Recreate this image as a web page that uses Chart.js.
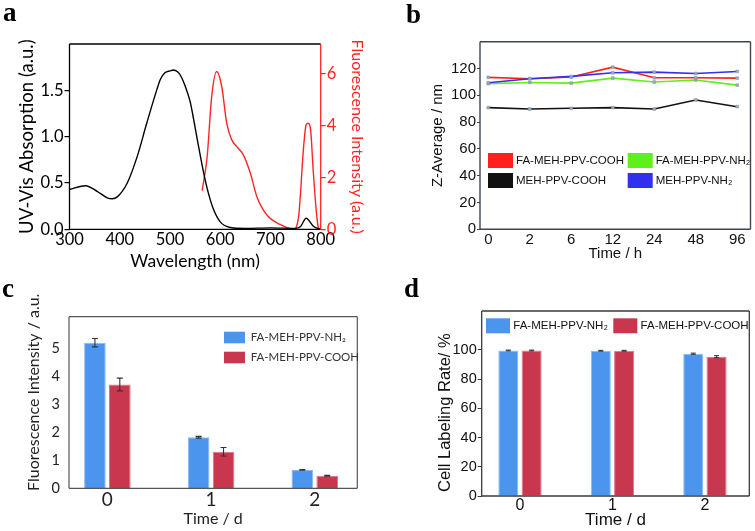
<!DOCTYPE html>
<html><head><meta charset="utf-8">
<script src="https://cdn.jsdelivr.net/npm/chart.js@4.4.1/dist/chart.umd.min.js"></script>
<style>
html,body{margin:0;padding:0;background:#fff;}
#wrap{position:relative;width:755px;height:531px;overflow:hidden;background:#fff;}
.layer{position:absolute;left:0;top:0;width:755px;height:531px;}
.lbl{position:absolute;font-family:"Liberation Serif","Times New Roman",serif;font-weight:bold;font-size:27px;line-height:1;color:#000;}
</style></head><body>
<div id="wrap">
  <div class="layer"><canvas id="ca"></canvas></div>
  <div class="layer"><canvas id="cb"></canvas></div>
  <div class="layer"><canvas id="cc"></canvas></div>
  <div class="layer"><canvas id="cd"></canvas></div>
  <div class="lbl" style="left:3px;top:-1px">a</div>
  <div class="lbl" style="left:406px;top:1px">b</div>
  <div class="lbl" style="left:2px;top:275px">c</div>
  <div class="lbl" style="left:404px;top:275px">d</div>
</div>
<script>
// ---------- Panel a data ----------
const uvWavelength = [300, 332, 355, 375, 385, 395, 415, 435, 454, 474, 481, 490, 500, 507, 515, 521, 530, 540, 547, 555, 567, 577, 587, 600, 620, 650, 700, 750, 760, 771, 786, 800];
const uvAbsorbance = [0.43, 0.47, 0.41, 0.34, 0.33, 0.35, 0.50, 0.79, 1.15, 1.51, 1.62, 1.69, 1.71, 1.72, 1.70, 1.66, 1.55, 1.38, 1.19, 0.95, 0.61, 0.38, 0.21, 0.08, 0.02, 0.01, 0.015, 0.01, 0.03, 0.12, 0.03, 0.0];
const flWavelength = [564, 574, 583, 593, 603, 613, 623, 633, 646, 660, 673, 693, 719, 746, 756, 766, 771, 775, 780, 785, 791, 795, 799];
const flIntensity = [1.49, 2.80, 5.12, 6.09, 5.51, 4.09, 3.45, 3.19, 2.87, 2.16, 1.26, 0.55, 0.19, 0.01, 0.49, 3.19, 4.03, 4.09, 3.83, 2.29, 0.75, 0.10, 0.0];

// ---------- Panel b data ----------
const timeLabels = ['0', '2', '6', '12', '24', '48', '96'];
const faMehPpvCooh = [113.4, 112.4, 113.6, 121.0, 113.1, 113.1, 112.8];
const faMehPpvNh2 = [108.7, 109.6, 109.1, 112.8, 109.9, 111.4, 107.6];
const mehPpvCooh = [90.8, 89.8, 90.3, 90.8, 89.8, 96.5, 91.5];
const mehPpvNh2 = [109.4, 112.4, 114.1, 116.8, 117.3, 116.3, 117.8];

// ---------- Panel c data ----------
const dayLabels = ['0', '1', '2'];
const flNh2 = [5.22, 1.83, 0.66];
const flNh2Err = [0.15, 0.03, 0.015];
const flCooh = [3.72, 1.31, 0.45];
const flCoohErr = [0.23, 0.15, 0.02];

// ---------- Panel d data ----------
const rateNh2 = [99.5, 99.3, 97.3];
const rateNh2Err = [0.3, 0.3, 0.4];
const rateCooh = [99.5, 99.3, 95.3];
const rateCoohErr = [0.3, 0.3, 0.7];

// ---------- plugins ----------
const framePlugin = {
  id: 'frame',
  afterDraw(chart, args, o) {
    const {ctx, chartArea: {left, top, right, bottom}} = chart;
    const c = o.colors || {};
    ctx.save();
    ctx.lineWidth = o.width || 1;
    const seg = (x1, y1, x2, y2, col) => { ctx.strokeStyle = col; ctx.beginPath(); ctx.moveTo(x1, y1); ctx.lineTo(x2, y2); ctx.stroke(); };
    const col = o.color || '#000';
    seg(left, top, right, top, c.top || col);
    seg(left, bottom, right, bottom, c.bottom || col);
    seg(left, top, left, bottom, c.left || col);
    seg(right, top, right, bottom, c.right || col);
    ctx.restore();
  }
};
const boxLegend = {
  id: 'boxLegend',
  afterDraw(chart, args, o) {
    if (!o || !o.items) return;
    const ctx = chart.ctx, ca = chart.chartArea;
    ctx.save();
    ctx.font = o.font;
    ctx.textBaseline = 'middle';
    ctx.textAlign = 'left';
    chart.data.datasets.forEach((ds, i) => {
      const p = o.items[i];
      if (!p) return;
      const x = ca.left + p[0], y = ca.top + p[1];
      ctx.fillStyle = o.useBorder ? ds.borderColor : ds.backgroundColor;
      ctx.fillRect(x, y, o.w, o.h);
      if (o.stroke) {
        ctx.lineWidth = 1;
        ctx.strokeStyle = o.useBorder ? o.stroke : ds.borderColor;
        ctx.strokeRect(x + 0.5, y + 0.5, o.w - 1, o.h - 1);
      }
      ctx.fillStyle = o.color;
      ctx.fillText(ds.label, x + o.w + o.gap, y + o.h / 2 + (o.dy || 0));
    });
    ctx.restore();
  }
};
const errorBars = {
  id: 'errorBars',
  afterDatasetsDraw(chart, args, o) {
    const ctx = chart.ctx, ys = chart.scales.y;
    ctx.save();
    ctx.strokeStyle = o.color || '#333';
    ctx.lineWidth = o.width || 1;
    chart.data.datasets.forEach((ds, i) => {
      if (!ds.errors) return;
      const meta = chart.getDatasetMeta(i);
      meta.data.forEach((bar, j) => {
        const v = ds.data[j].y, e = ds.errors[j];
        const yt = ys.getPixelForValue(v + e), yb = ys.getPixelForValue(v - e);
        const x = bar.x, cw = o.cap || 3;
        ctx.beginPath();
        ctx.moveTo(x, yt); ctx.lineTo(x, yb);
        ctx.moveTo(x - cw, yt); ctx.lineTo(x + cw, yt);
        ctx.moveTo(x - cw, yb); ctx.lineTo(x + cw, yb);
        ctx.stroke();
      });
    });
    ctx.restore();
  }
};

const base = {responsive: true, maintainAspectRatio: false, animation: false, events: []};
const onlyInts = (lo, hi) => (axis) => { axis.ticks = axis.ticks.filter(t => Math.abs(t.value - Math.round(t.value)) < 1e-6 && t.value >= lo && t.value <= hi); };
const keep = (vals) => (axis) => { axis.ticks = axis.ticks.filter(t => vals.some(v => Math.abs(v - t.value) < 1e-6)); };
const noGrid = {display: false, drawTicks: false, tickLength: 0};

// ---------- Panel a ----------
const LATO = 'Lato, "Open Sans", sans-serif';
const ARIAL = '"Liberation Sans", Arial, sans-serif';
const RED = '#ff2424';
new Chart(document.getElementById('ca'), {
  type: 'line',
  data: {
    datasets: [
      {label: 'UV-Vis Absorption', data: uvWavelength.map((x, i) => ({x, y: uvAbsorbance[i]})), borderColor: '#000', borderWidth: 1.4, pointRadius: 0, cubicInterpolationMode: 'monotone', yAxisID: 'y'},
      {label: 'Fluorescence Intensity', data: flWavelength.map((x, i) => ({x, y: flIntensity[i]})), borderColor: RED, borderWidth: 1.4, pointRadius: 0, cubicInterpolationMode: 'monotone', yAxisID: 'y1'}
    ]
  },
  options: Object.assign({}, base, {
    layout: {padding: {left: 15.5, top: 44, right: 755 - 320.7 - 46.2, bottom: 531 - 229.3 - 43}},
    plugins: {legend: {display: false}, tooltip: {enabled: false}, frame: {width: 1.3, color: '#000', colors: {right: RED}}},
    scales: {
      x: {type: 'linear', min: 300, max: 800,
        ticks: {stepSize: 100, includeBounds: false, font: {family: LATO, size: 16.5}, color: '#000', padding: 0, maxRotation: 0},
        grid: noGrid, border: {display: false},
        title: {display: true, text: 'Wavelength (nm)', font: {family: LATO, size: 17.5}, color: '#000', padding: 0},
        afterBuildTicks: keep([300, 400, 500, 600, 700, 800]),
        afterFit: s => { s.height = 43; }},
      y: {position: 'left', min: 0, max: 2,
        ticks: {stepSize: 0.5, includeBounds: false, font: {family: LATO, size: 16.5}, color: '#000', padding: 1, callback: v => v.toFixed(1)},
        grid: {display: true, drawOnChartArea: false, tickLength: 5, color: '#000', lineWidth: 1.2}, border: {display: false},
        title: {display: true, text: 'UV-Vis Absorption (a.u.)', font: {family: LATO, size: 18.5}, color: '#000', padding: 0},
        afterBuildTicks: keep([0, 0.5, 1, 1.5]),
        afterFit: s => { s.width = 54; }},
      y1: {position: 'right', min: 0, max: 7.15,
        ticks: {stepSize: 2, includeBounds: false, font: {family: LATO, size: 16.5}, color: RED, padding: 1},
        grid: {display: true, drawOnChartArea: false, tickLength: 5, color: RED, lineWidth: 1.2}, border: {display: false},
        title: {display: true, text: 'Fluorescence Intensity (a.u.)', font: {family: LATO, size: 16}, color: RED, padding: 0},
        afterBuildTicks: keep([0, 2, 4, 6]),
        afterFit: s => { s.width = 46.2; }}
    }
  }),
  plugins: [framePlugin]
});

// ---------- Panel b ----------
const mk = (label, arr, color, order) => ({label, data: arr.map((y, i) => ({x: i, y})), borderColor: color, backgroundColor: color, borderWidth: 1.6, pointStyle: 'rect', pointRadius: 2, pointBackgroundColor: '#9eabbd', pointBorderColor: '#8190a6', pointBorderWidth: 0.5, tension: 0, order});
new Chart(document.getElementById('cb'), {
  type: 'line',
  data: {
    datasets: [
      mk('FA-MEH-PPV-COOH', faMehPpvCooh, '#ff1f1f', 1),
      mk('FA-MEH-PPV-NH\u2082', faMehPpvNh2, '#5ef01a', 2),
      mk('MEH-PPV-COOH', mehPpvCooh, '#111111', 3),
      mk('MEH-PPV-NH\u2082', mehPpvNh2, '#3030ee', 0)
    ]
  },
  options: Object.assign({}, base, {
    layout: {padding: {left: 480 - 51, top: 41.7, right: 755 - 751.7, bottom: 531 - 229.3 - 33.7}},
    plugins: {legend: {display: false}, tooltip: {enabled: false}, frame: {width: 1.4, color: '#3d4650'},
      boxLegend: {items: [[8, 111.3], [147.7, 111.3], [8, 131.3], [147.7, 131.3]], w: 25, h: 15, gap: 3, font: '11.5px ' + ARIAL, color: '#111', useBorder: true}},
    scales: {
      x: {type: 'linear', min: -0.2, max: 6.32,
        ticks: {stepSize: 1, includeBounds: false, font: {family: ARIAL, size: 15}, color: '#111', padding: 1.5, maxRotation: 0, callback: v => timeLabels[v]},
        grid: noGrid, border: {display: false},
        title: {display: true, text: 'Time / h', font: {family: ARIAL, size: 15}, color: '#111', padding: 0},
        afterBuildTicks: onlyInts(0, 6),
        afterFit: s => { s.height = 33.7; }},
      y: {min: 0, max: 140,
        ticks: {stepSize: 20, includeBounds: false, font: {family: ARIAL, size: 15}, color: '#111', padding: 1},
        grid: {display: true, drawOnChartArea: false, tickLength: 3, color: '#3d4650'}, border: {display: false},
        title: {display: true, text: 'Z-Average / nm', font: {family: ARIAL, size: 15}, color: '#111', padding: 0},
        afterBuildTicks: keep([0, 20, 40, 60, 80, 100, 120]),
        afterFit: s => { s.width = 51; }}
    }
  }),
  plugins: [framePlugin, boxLegend]
});

// ---------- Panel c ----------
const BLUE = '#4b95ee', BLUE_E = '#86bbf6', CRIM = '#c9374f', CRIM_E = '#e27487';
new Chart(document.getElementById('cc'), {
  type: 'bar',
  data: {
    datasets: [
      {label: 'FA-MEH-PPV-NH\u2082', data: flNh2.map((y, i) => ({x: i, y})), errors: flNh2Err, backgroundColor: BLUE, borderColor: BLUE_E, borderWidth: 1, categoryPercentage: 0.48, barPercentage: 0.87},
      {label: 'FA-MEH-PPV-COOH', data: flCooh.map((y, i) => ({x: i, y})), errors: flCoohErr, backgroundColor: CRIM, borderColor: CRIM_E, borderWidth: 1, categoryPercentage: 0.48, barPercentage: 0.87}
    ]
  },
  options: Object.assign({}, base, {
    layout: {padding: {left: 69 - 45.1, top: 316.7, right: 755 - 357.3, bottom: 531 - 488.3 - 39.8}},
    plugins: {legend: {display: false}, tooltip: {enabled: false}, frame: {width: 1.2, color: '#555'},
      errorBars: {color: '#333', width: 1.1, cap: 3},
      boxLegend: {items: [[155, 15], [155, 35]], w: 21, h: 11.6, gap: 5.7, font: '11.5px ' + LATO, color: '#333'}},
    scales: {
      x: {type: 'linear', min: -0.37, max: 2.41, offset: false,
        ticks: {stepSize: 1, includeBounds: false, font: {family: LATO, size: 19}, color: '#222', padding: 0.5, maxRotation: 0, callback: v => dayLabels[v]},
        grid: noGrid, border: {display: false},
        title: {display: true, text: 'Time / d', font: {family: LATO, size: 16}, color: '#222', padding: 0},
        afterBuildTicks: onlyInts(0, 2),
        afterFit: s => { s.height = 39.8; }},
      y: {min: 0, max: 6.15,
        ticks: {stepSize: 1, includeBounds: false, font: {family: LATO, size: 14.5}, color: '#222', padding: 9},
        grid: noGrid, border: {display: false},
        title: {display: true, text: '\u00a0\u00a0\u00a0\u00a0\u00a0Fluorescence Intensity / a.u.', font: {family: LATO, size: 16}, color: '#222', padding: 0},
        afterBuildTicks: onlyInts(0, 5),
        afterFit: s => { s.width = 45.1; }}
    }
  }),
  plugins: [framePlugin, errorBars, boxLegend]
});

// ---------- Panel d ----------
new Chart(document.getElementById('cd'), {
  type: 'bar',
  data: {
    datasets: [
      {label: 'FA-MEH-PPV-NH\u2082', data: rateNh2.map((y, i) => ({x: i, y})), errors: rateNh2Err, backgroundColor: BLUE, borderColor: BLUE_E, borderWidth: 1, categoryPercentage: 0.504, barPercentage: 0.86},
      {label: 'FA-MEH-PPV-COOH', data: rateCooh.map((y, i) => ({x: i, y})), errors: rateCoohErr, backgroundColor: CRIM, borderColor: CRIM_E, borderWidth: 1, categoryPercentage: 0.504, barPercentage: 0.86}
    ]
  },
  options: Object.assign({}, base, {
    layout: {padding: {left: 481.7 - 46.6, top: 311, right: 755 - 749.3, bottom: 0}},
    plugins: {legend: {display: false}, tooltip: {enabled: false}, frame: {width: 1.3, color: '#3a3a3a'},
      errorBars: {color: '#333', width: 1, cap: 2.5},
      boxLegend: {items: [[4.3, 7.3], [131.6, 7.3]], w: 24, h: 15, gap: 3.3, font: '11.5px ' + ARIAL, color: '#111'}},
    scales: {
      x: {type: 'linear', min: -0.414, max: 2.48, offset: false,
        ticks: {stepSize: 1, includeBounds: false, font: {family: ARIAL, size: 16}, color: '#111', padding: 0, maxRotation: 0, callback: v => dayLabels[v]},
        grid: noGrid, border: {display: false},
        title: {display: true, text: 'Time / d', font: {family: ARIAL, size: 17}, color: '#111', padding: 0},
        afterBuildTicks: onlyInts(0, 2),
        afterFit: s => { s.height = 35; }},
      y: {min: 0, max: 126.5,
        ticks: {stepSize: 20, includeBounds: false, font: {family: ARIAL, size: 14.5}, color: '#111', padding: 1},
        grid: {display: true, drawOnChartArea: false, tickLength: 4, color: '#3a3a3a'}, border: {display: false},
        title: {display: true, text: 'Cell Labeling Rate/ %\u00a0\u00a0\u00a0\u00a0', font: {family: ARIAL, size: 16.5}, color: '#111', padding: 0},
        afterBuildTicks: keep([0, 20, 40, 60, 80, 100]),
        afterFit: s => { s.width = 46.6; }}
    }
  }),
  plugins: [framePlugin, errorBars, boxLegend]
});
</script>
</body></html>
